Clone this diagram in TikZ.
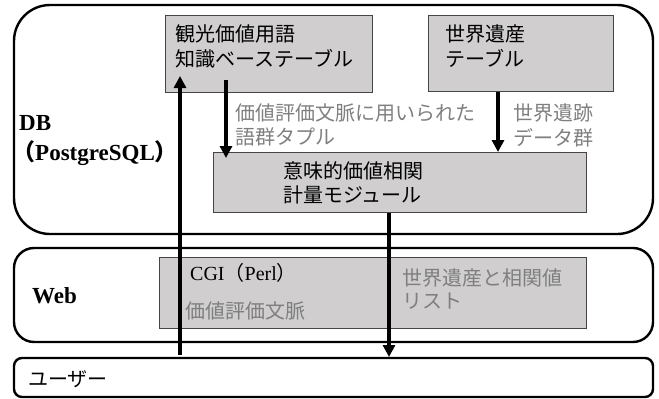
\documentclass[tikz,border=0pt]{standalone}
\usepackage{fontspec}
\setmainfont{Liberation Serif}
\newfontfamily\jp{Noto Sans CJK JP}
\usetikzlibrary{arrows.meta}
\definecolor{boxfill}{HTML}{D0CECE}
\definecolor{boxline}{HTML}{454545}
\definecolor{txtgray}{HTML}{7F7F7F}
\tikzset{
  layer/.style={draw=black, line width=2.4pt},
  graybox/.style={draw=boxline, fill=boxfill, line width=1.1pt},
  jtxt/.style={anchor=base west, inner sep=0pt, font=\jp\fontsize{20}{24}\selectfont},
  gtxt/.style={jtxt, text=txtgray},
  btxt/.style={anchor=base west, inner sep=0pt, font=\bfseries\fontsize{23}{27}\selectfont},
  flow/.style={line width=3.6pt, -{Triangle[width=12pt,length=12pt]}},
}
\begin{document}
\begin{tikzpicture}[x=1pt,y=-1pt]
\useasboundingbox (0,0) rectangle (659,399);
% layers
\draw[layer, rounded corners=36pt] (14,5) rectangle (653,234);
\draw[layer, rounded corners=20pt] (14,248) rectangle (653,342);
\draw[layer, rounded corners=8pt] (14,358) rectangle (653,397);
% gray boxes
\node[graybox, minimum width=207pt, minimum height=77pt, anchor=north west, inner sep=0pt] (kb) at (165,15) {};
\node[graybox, minimum width=185pt, minimum height=76pt, anchor=north west, inner sep=0pt] (wh) at (428,15) {};
\node[graybox, minimum width=373pt, minimum height=60pt, anchor=north west, inner sep=0pt] (mod) at (213,152) {};
\node[graybox, minimum width=427pt, minimum height=71pt, anchor=north west, inner sep=0pt] (cgi) at (159,257) {};
% layer labels
\node[btxt] (db) at (19,130) {DB};
\node[btxt] (pg) at (12,160) {{\jp （}PostgreSQL{\jp ）}};
\node[btxt] (web) at (32,303) {Web};
\node[jtxt] (user) at (28,386) {ユーザー};
% box texts
\node[jtxt] (kb1) at (175,41) {観光価値用語};
\node[jtxt] (kb2) at (175,66) {知識ベーステーブル};
\node[jtxt] (wh1) at (445,41) {世界遺産};
\node[jtxt] (wh2) at (445,66) {テーブル};
\node[jtxt] (mod1) at (283,178) {意味的価値相関};
\node[jtxt] (mod2) at (283,202) {計量モジュール};
\node[anchor=base west, inner sep=0pt, font=\fontsize{20}{24}\selectfont] (cgi1) at (190,280) {CGI{\jp （}Perl{\jp ）}};
\node[gtxt] (cgi2) at (185,318) {価値評価文脈};
\node[gtxt] (lst1) at (402,285) {世界遺産と相関値};
\node[gtxt] (lst2) at (402,308) {リスト};
% connector labels
\node[gtxt] (lab1) at (235,120) {価値評価文脈に用いられた};
\node[gtxt] (lab2) at (235,144) {語群タプル};
\node[gtxt] (lab3) at (513,120) {世界遺跡};
\node[gtxt] (lab4) at (513,145) {データ群};
% connector anchor points
\coordinate (upS) at (180,355);
\coordinate (upE) at (180,76);
\coordinate (d1S) at (226,80);
\coordinate (d1E) at (226,158);
\coordinate (d2S) at (498,91);
\coordinate (d2E) at (498,152);
\coordinate (d3S) at (389,212);
\coordinate (d3E) at (389,357);
\draw[flow] (upS) -- (upE);
\draw[flow] (d1S) -- (d1E);
\draw[flow] (wh.south -| d2S) -- (d2E);
\draw[flow] (mod.south -| d3S) -- (d3E);
\end{tikzpicture}
\end{document}
